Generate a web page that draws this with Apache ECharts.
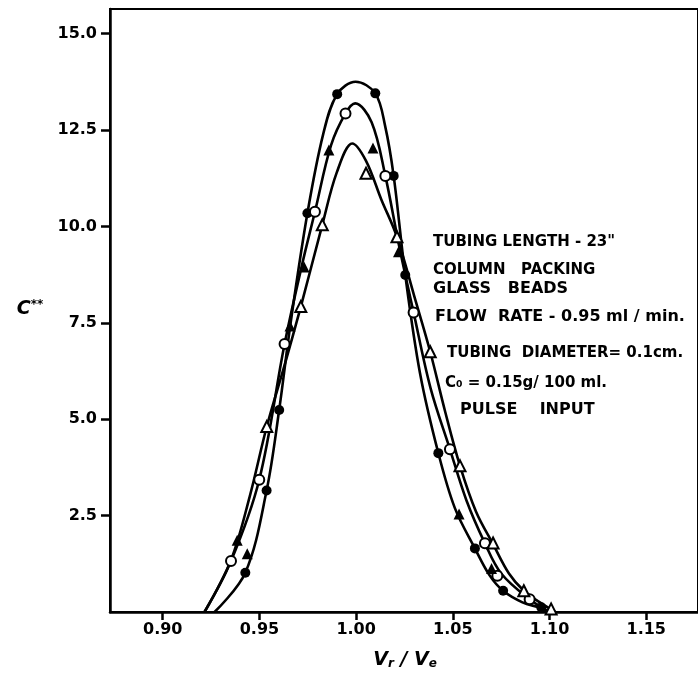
<!DOCTYPE html>
<html><head><meta charset="utf-8">
<script src="https://cdn.jsdelivr.net/npm/echarts@6/dist/echarts.min.js"></script>
<style>html,body{margin:0;padding:0;background:#fff}#c{width:698px;height:685px}</style>
</head><body><div id="c"></div>
<script>
// ---- data ----
const xTicks = [0.90, 0.95, 1.00, 1.05, 1.10, 1.15];
const yTicks = [2.5, 5.0, 7.5, 10.0, 12.5, 15.0];

const filledCircles = [[0.9427,1.02],[0.9537,3.15],[0.9602,5.24],[0.9748,10.34],[0.9902,13.43],[1.0099,13.45],
  [1.0194,11.31],[1.0254,8.74],[1.0425,4.12],[1.0614,1.65],[1.0760,0.55],[1.0957,0.12]];
const openCircles = [[0.9353,1.32],[0.9499,3.43],[0.9630,6.95],[0.9787,10.38],[0.9945,12.93],[1.0151,11.31],
  [1.0297,7.77],[1.0485,4.22],[1.0666,1.78],[1.0730,0.94],[1.0897,0.33]];
const filledTriangles = [[0.9385,1.86],[0.9437,1.51],[0.9658,7.42],[0.9731,8.95],[0.9859,11.98],[1.0087,12.03],
  [1.0219,9.34],[1.0532,2.54],[1.0700,1.13]];
const openTriangles = [[0.9538,4.81],[0.9714,7.92],[0.9825,10.04],[1.0051,11.38],[1.0211,9.73],[1.0383,6.75],
  [1.0537,3.79],[1.0708,1.79],[1.0867,0.55],[1.1008,0.08]];

const curveFilled = [[0.9268,0],[0.9427,1.02],[0.9537,3.15],[0.9602,5.24],[0.9660,7.45],[0.9748,10.34],[0.9830,12.4],
  [0.9902,13.43],[0.9997,13.75],[1.0099,13.45],[1.0150,12.6],[1.0194,11.31],[1.0254,8.74],[1.0330,6.2],[1.0425,4.12],
  [1.0510,2.7],[1.0614,1.65],[1.0690,0.95],[1.0760,0.55],[1.0860,0.25],[1.0957,0.1],[1.0990,0]];
const curveOpen = [[0.9216,0],[0.9353,1.32],[0.9499,3.43],[0.9630,6.95],[0.9720,9.0],[0.9787,10.38],[0.9870,12.1],
  [0.9945,12.93],[0.9995,13.19],[1.0080,12.7],[1.0151,11.31],[1.0222,9.5],[1.0297,7.77],[1.0385,5.8],[1.0485,4.22],
  [1.0570,2.9],[1.0666,1.78],[1.0750,1.0],[1.0897,0.33],[1.1000,0]];
const curveTriangle = [[0.9216,0],[0.9353,1.35],[0.9450,3.0],[0.9538,4.81],[0.9630,6.4],[0.9714,7.92],[0.9825,10.04],
  [0.9900,11.4],[0.9980,12.15],[1.0051,11.7],[1.0130,10.7],[1.0211,9.73],[1.0300,8.2],[1.0383,6.75],[1.0460,5.2],
  [1.0537,3.79],[1.0620,2.6],[1.0708,1.76],[1.0790,1.0],[1.0867,0.55],[1.0950,0.25],[1.1030,0]];

const noteLines = ['TUBING LENGTH - 23"', 'COLUMN   PACKING', 'GLASS   BEADS', 'FLOW  RATE - 0.95 ml / min.',
  'TUBING  DIAMETER= 0.1cm.', 'C₀ = 0.15g/ 100 ml.', 'PULSE    INPUT'];
const xTitle = ['V', 'r', ' / V', 'e'];
const yTitle = ['C', '**'];

// ---- layout ----
const X_MIN = 0.90 - 53/1944, X_MAX = X_MIN + 591/1944;
const Y_MIN = 0, Y_MAX = 603/38.56;
const notePos = [[433,242],[433,270],[433,289],[435,317],[447,353],[445,383],[460,410]];
const noteSize = [15,15,16,16,15,15,16];
const FONT = '"DejaVu Sans", sans-serif';

const chart = echarts.init(document.getElementById('c'), null, {renderer:'canvas'});
const lineS = (d) => ({type:'line', data:d, smooth:0.35, symbol:'none', silent:true, z:2,
  lineStyle:{color:'#000', width:2.6, opacity:1}});
const scatS = (d, sym, filled, size) => ({type:'scatter', data:d, symbol:sym, symbolSize:size, z:5, silent:true,
  itemStyle: filled ? {color:'#000', opacity:1} : {color:'#fff', borderColor:'#000', borderWidth:2, opacity:1}});

chart.setOption({
  animation:false,
  backgroundColor:'#fff',
  grid:{left:110, top:9, right:-3, bottom:73, show:true, borderColor:'#000', borderWidth:2},
  xAxis:{type:'value', min:X_MIN, max:X_MAX,
    axisLine:{show:true, onZero:false, lineStyle:{color:'#000', width:2.5}},
    axisTick:{show:true, customValues:xTicks, length:8, inside:false, lineStyle:{color:'#000', width:2.5}},
    axisLabel:{show:true, customValues:xTicks, margin:10, color:'#000',
      fontFamily:FONT, fontWeight:'bold', fontSize:16, formatter:v=>v.toFixed(2)},
    splitLine:{show:false}},
  yAxis:{type:'value', min:Y_MIN, max:Y_MAX,
    axisLine:{show:true, onZero:false, lineStyle:{color:'#000', width:2.5}},
    axisTick:{show:true, customValues:yTicks, length:9, lineStyle:{color:'#000', width:2.5}},
    axisLabel:{show:true, customValues:yTicks, margin:13, color:'#000',
      fontFamily:FONT, fontWeight:'bold', fontSize:16, formatter:v=>v.toFixed(1)},
    splitLine:{show:false}},
  series:[
    lineS(curveFilled), lineS(curveOpen), lineS(curveTriangle),
    scatS(filledCircles,'circle',true,10),
    scatS(openCircles,'circle',false,10),
    scatS(filledTriangles,'triangle',true,11),
    scatS(openTriangles,'triangle',false,11)
  ],
  graphic: noteLines.map((t,i)=>({type:'text', x:notePos[i][0], y:notePos[i][1], z:10,
      style:{text:t, fill:'#000', font:'bold '+noteSize[i]+'px '+FONT, verticalAlign:'middle', align:'left'}}))
    .concat([
      {type:'text', x:405, y:660, z:10, style:{
        text:'{v|'+xTitle[0]+'}{s|'+xTitle[1]+'}{v|'+xTitle[2]+'}{s|'+xTitle[3]+'}',
        align:'center', verticalAlign:'middle',
        rich:{v:{font:'italic bold 19px '+FONT, fill:'#000'},
              s:{font:'italic bold 12px '+FONT, fill:'#000', verticalAlign:'bottom', padding:[8,0,0,0]}}}},
      {type:'text', x:30, y:309, z:10, style:{
        text:'{v|'+yTitle[0]+'}{s|'+yTitle[1]+'}', align:'center', verticalAlign:'middle',
        rich:{v:{font:'italic bold 19px '+FONT, fill:'#000'},
              s:{font:'bold 12px '+FONT, fill:'#000', verticalAlign:'top', padding:[0,0,8,0]}}}}
    ])
});
</script></body></html>
